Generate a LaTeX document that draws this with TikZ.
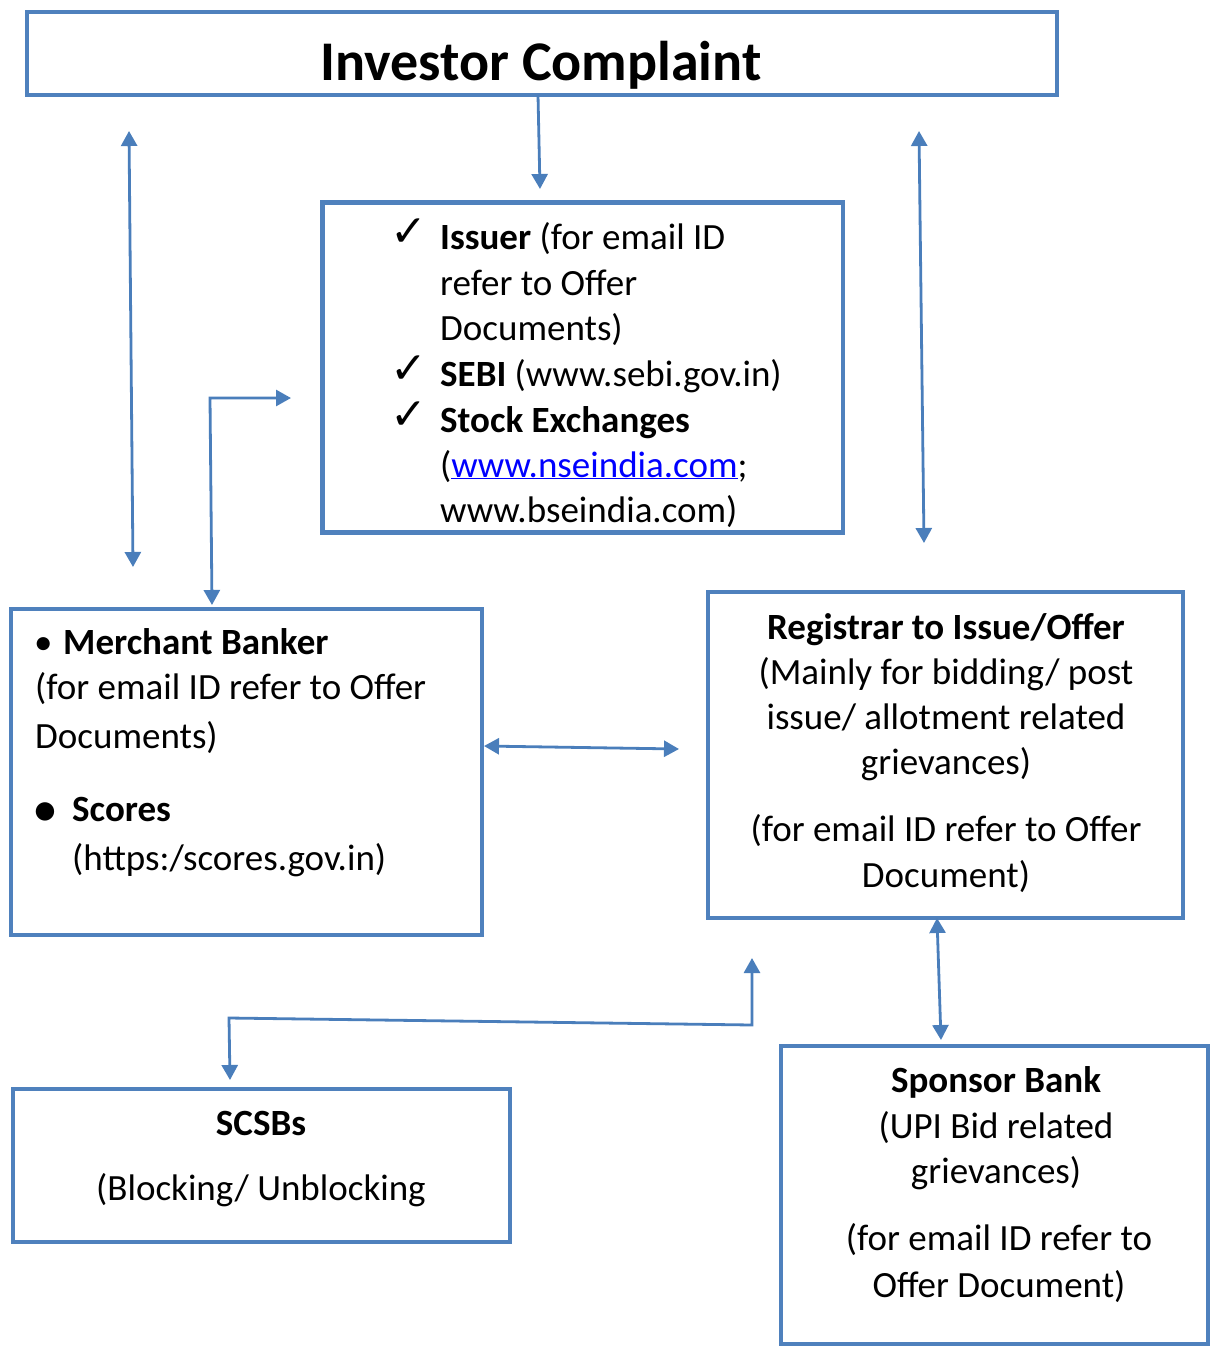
\documentclass[tikz,border=0pt]{standalone}
\usepackage{fontspec}
\setmainfont{Carlito}
\newfontfamily\dejavu{DejaVu Sans}
\usetikzlibrary{arrows.meta}
\definecolor{boxblue}{RGB}{79,129,189}
\definecolor{arrblue}{RGB}{74,126,187}
\definecolor{linkblue}{RGB}{0,0,255}
\begin{document}
\begin{tikzpicture}[x=1pt,y=-1pt,
  >={Triangle[length=15pt,width=16pt]},
  box/.style={draw=boxblue,line width=4.5pt,rectangle,inner sep=0pt,outer sep=0pt},
  conn/.style={draw=arrblue,line width=2.8pt},
  txt/.style={inner sep=0pt,font=\fontsize{37}{44}\selectfont,anchor=base west},
  ctxt/.style={txt,anchor=base},
  chk/.style={txt,font=\dejavu\fontsize{44}{46}\selectfont},
  ]
\useasboundingbox (0,0) rectangle (1214,1347);

% boxes
\node[box,minimum width=1030pt,minimum height=83pt] (title) at (542,53.5) {};
\node[box,minimum width=520.5pt,minimum height=330pt] (issuer) at (582.75,367.5) {};
\node[box,minimum width=471pt,minimum height=326pt] (merchant) at (246.5,772) {};
\node[box,minimum width=475pt,minimum height=326pt] (registrar) at (945.5,755) {};
\node[box,minimum width=497pt,minimum height=153pt] (scsb) at (261.5,1165.5) {};
\node[box,minimum width=427pt,minimum height=298pt] (sponsor) at (994.5,1195) {};

% title
\node[inner sep=0pt,anchor=base,font=\fontsize{56}{60}\selectfont\bfseries] (ttl) at (541,80) {Investor Complaint};

% issuer box
\node[chk] (c1) at (390,246) {✓};
\node[chk] (c2) at (390,383) {✓};
\node[chk] (c3) at (390,429) {✓};
\node[txt] (i1) at (440,249) {\textbf{Issuer} (for email ID};
\node[txt] (i2) at (440,295) {refer to Offer};
\node[txt] (i3) at (440,340) {Documents)};
\node[txt] (i4) at (440,386) {\textbf{SEBI} (www.sebi.gov.in)};
\node[txt] (i5) at (440,432) {\textbf{Stock Exchanges}};
\node[txt] (i6) at (440,477) {(\textcolor{linkblue}{\underline{www.nseindia.com}};};
\node[txt] (i7) at (440,522) {www.bseindia.com)};

% merchant box
\node[txt] (mb) at (34,654) {•};
\node[txt] (m1) at (63,654) {\textbf{Merchant Banker}};
\node[txt] (m2) at (35,699) {(for email ID refer to Offer};
\node[txt] (m3) at (35,748) {Documents)};
\node[txt,font=\fontsize{52}{56}\selectfont] (sb) at (32,826) {•};
\node[txt] (s1) at (72,821) {\textbf{Scores}};
\node[txt] (s2) at (72,870) {(https:/scores.gov.in)};

% registrar box
\node[ctxt] (r1) at (946,639) {\textbf{Registrar to Issue/Offer}};
\node[ctxt] (r2) at (946,684) {(Mainly for bidding/ post};
\node[ctxt] (r3) at (946,729) {issue/ allotment related};
\node[ctxt] (r4) at (946,774) {grievances)};
\node[ctxt] (r5) at (946,841) {(for email ID refer to Offer};
\node[ctxt] (r6) at (946,887) {Document)};

% scsb box
\node[ctxt] (sc1) at (261,1135) {\textbf{SCSBs}};
\node[ctxt] (sc2) at (261,1200) {(Blocking/ Unblocking};

% sponsor box
\node[ctxt] (sp1) at (996,1092) {\textbf{Sponsor Bank}};
\node[ctxt] (sp2) at (996,1138) {(UPI Bid related};
\node[ctxt] (sp3) at (996,1183) {grievances)};
\node[ctxt] (sp4) at (999,1250) {(for email ID refer to};
\node[ctxt] (sp5) at (999,1297) {Offer Document)};

% connectors
\coordinate (L1) at (129,131);
\coordinate (L2) at (133,567);
\draw[conn,<->] (L1) -- (L2);

\coordinate (T1) at (540,189);
\draw[conn,->] ([xshift=-4pt]title.south) -- (T1);

\coordinate (R1) at (919,131);
\coordinate (R2) at (924,543);
\draw[conn,<->] (R1) -- (R2);

\coordinate (E1) at (291,398);
\coordinate (E2) at (210,398);
\coordinate (E3) at (212,605);
\draw[conn,<->] (E1) -- (E2) -- (E3);

\coordinate (H1) at (484,746);
\coordinate (H2) at (679,749);
\draw[conn,<->] (H1) -- (H2);

\coordinate (B1) at (230,1080);
\coordinate (B2) at (229,1018);
\coordinate (B3) at (752,1025);
\coordinate (B4) at (752,958);
\draw[conn,<->] (B1) -- (B2) -- (B3) -- (B4);

\coordinate (S1) at (941,1040);
\draw[conn,<->] ([xshift=-8.5pt]registrar.south) -- (S1);
\end{tikzpicture}
\end{document}
